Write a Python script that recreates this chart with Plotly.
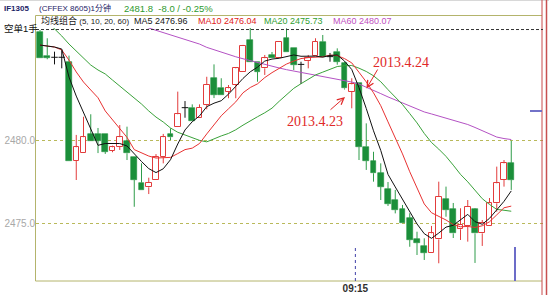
import plotly.graph_objects as go

# ---------------- data ----------------
opens = [2486.60, 2485.15, 2485.05, 2485.05, 2484.78, 2478.77, 2479.24, 2480.39, 2480.41, 2480.41,
         2479.39, 2479.64, 2479.98, 2479.03, 2477.46, 2477.18, 2477.62, 2478.99, 2480.41, 2480.85,
         2482.00, 2482.00, 2481.36, 2482.16, 2483.78, 2483.21, 2482.97, 2483.37, 2484.16, 2486.10,
         2484.78, 2484.38, 2485.19, 2484.99, 2486.20, 2485.59, 2484.62, 2484.82, 2485.15, 2485.99,
         2485.09, 2485.39, 2484.69, 2482.97, 2483.47, 2479.64, 2478.77, 2478.03, 2477.08, 2476.41,
         2475.85, 2475.30, 2474.03, 2473.63, 2473.22, 2474.03, 2476.45, 2475.85, 2474.64, 2474.84,
         2475.85, 2474.39, 2474.84, 2476.21, 2477.62, 2478.63]
highs = [2486.70, 2486.20, 2485.39, 2485.49, 2485.15, 2480.35, 2481.45, 2481.60, 2480.77, 2480.41,
         2479.70, 2480.95, 2480.85, 2479.03, 2478.63, 2477.76, 2479.19, 2480.41, 2480.75, 2482.97,
         2482.40, 2482.20, 2482.20, 2483.87, 2484.62, 2483.78, 2483.37, 2484.42, 2485.80, 2487.00,
         2484.78, 2485.19, 2485.37, 2486.00, 2486.80, 2485.59, 2484.78, 2485.19, 2486.20, 2486.40,
         2485.31, 2485.59, 2484.78, 2483.78, 2483.47, 2481.05, 2479.33, 2478.63, 2477.50, 2477.02,
         2476.11, 2475.61, 2474.49, 2474.09, 2474.84, 2477.52, 2477.22, 2476.23, 2475.91, 2476.41,
         2475.91, 2475.20, 2476.53, 2478.43, 2478.83, 2480.00]
lows = [2485.00, 2484.93, 2484.62, 2484.38, 2478.77, 2477.62, 2479.24, 2480.00, 2479.25, 2479.20,
        2479.30, 2479.44, 2478.83, 2476.00, 2477.02, 2476.77, 2477.62, 2478.63, 2480.04, 2480.85,
        2481.39, 2481.19, 2481.36, 2481.90, 2482.58, 2482.77, 2482.57, 2482.57, 2484.16, 2484.78,
        2483.57, 2483.98, 2484.99, 2484.99, 2485.39, 2484.28, 2483.43, 2484.38, 2485.15, 2485.09,
        2484.78, 2484.60, 2483.10, 2481.96, 2478.83, 2478.23, 2477.52, 2476.41, 2476.05, 2475.60,
        2475.00, 2473.58, 2473.08, 2472.78, 2473.22, 2472.58, 2475.40, 2474.11, 2473.99, 2473.89,
        2472.60, 2473.63, 2474.84, 2475.70, 2477.22, 2477.02]
closes = [2485.00, 2485.02, 2485.05, 2485.05, 2478.77, 2479.60, 2480.21, 2480.00, 2480.00, 2479.33,
          2479.60, 2480.21, 2479.24, 2477.62, 2477.02, 2477.46, 2478.99, 2480.21, 2480.21, 2481.60,
          2482.00, 2481.19, 2482.00, 2483.37, 2482.77, 2482.77, 2483.17, 2484.38, 2485.75, 2484.78,
          2484.18, 2484.99, 2484.99, 2485.99, 2485.39, 2484.58, 2484.62, 2485.02, 2485.99, 2485.09,
          2485.09, 2484.78, 2483.17, 2483.41, 2479.62, 2478.77, 2478.03, 2477.22, 2476.17, 2475.80,
          2475.00, 2473.99, 2473.83, 2473.22, 2474.39, 2476.61, 2475.80, 2474.39, 2474.90, 2476.00,
          2474.39, 2475.00, 2476.21, 2477.42, 2478.63, 2477.62]

ma5 = [2485.79, 2485.73, 2485.67, 2485.55, 2483.85, 2482.70, 2481.74, 2480.73, 2479.72, 2479.83,
       2479.83, 2479.83, 2479.68, 2479.20, 2478.74, 2478.31, 2478.07, 2478.30, 2478.85, 2479.80,
       2480.65, 2481.15, 2481.50, 2482.06, 2482.27, 2482.42, 2482.82, 2483.29, 2483.77, 2484.17,
       2484.45, 2484.82, 2484.94, 2484.99, 2485.11, 2485.19, 2485.11, 2485.12, 2485.12, 2485.06,
       2485.16, 2485.19, 2484.82, 2484.31, 2483.21, 2481.95, 2480.60, 2479.41, 2477.96, 2477.20,
       2476.44, 2475.64, 2474.96, 2474.37, 2474.09, 2474.41, 2474.77, 2474.88, 2475.22, 2475.54,
       2475.10, 2474.94, 2475.30, 2475.80, 2476.33, 2476.96]
ma10 = [2485.79, 2485.73, 2485.67, 2485.49, 2484.88, 2484.16, 2483.55, 2483.07, 2482.60, 2481.80,
        2481.26, 2480.78, 2480.20, 2479.46, 2479.28, 2479.07, 2478.95, 2478.97, 2478.99, 2479.22,
        2479.46, 2479.55, 2479.83, 2480.41, 2480.98, 2481.51, 2481.93, 2482.35, 2482.90, 2483.22,
        2483.44, 2483.82, 2484.12, 2484.38, 2484.64, 2484.82, 2484.97, 2485.03, 2485.05, 2485.08,
        2485.18, 2485.15, 2484.97, 2484.71, 2484.14, 2483.56, 2482.90, 2482.12, 2481.14, 2480.21,
        2479.20, 2478.12, 2477.18, 2476.17, 2475.64, 2475.43, 2475.20, 2474.92, 2474.79, 2474.81,
        2474.75, 2474.85, 2475.09, 2475.51, 2475.94, 2476.04]
ma20 = [None, 2487.20, 2486.78, 2486.34, 2485.85, 2485.43, 2484.95, 2484.58, 2484.28, 2484.04,
        2483.67, 2483.31, 2482.95, 2482.58, 2482.22, 2481.80, 2481.43, 2481.13, 2480.77, 2480.51,
        2480.36, 2480.17, 2480.02, 2479.93, 2480.13, 2480.29, 2480.44, 2480.66, 2480.94, 2481.22,
        2481.45, 2481.69, 2481.97, 2482.39, 2482.81, 2483.17, 2483.45, 2483.69, 2483.98, 2484.15,
        2484.31, 2484.49, 2484.54, 2484.55, 2484.39, 2484.19, 2483.93, 2483.57, 2483.09, 2482.65,
        2482.19, 2481.64, 2481.08, 2480.44, 2479.89, 2479.49, 2479.05, 2478.52, 2477.96, 2477.51,
        2476.97, 2476.49, 2476.14, 2475.84, 2475.79, 2475.73]
ma60 = [None, None, None, None, None, None, None, None, None, None,
        None, None, None, None, 2486.96, 2486.82, 2486.67, 2486.52, 2486.38, 2486.23,
        2486.10, 2485.97, 2485.85, 2485.65, 2485.50, 2485.35, 2485.22, 2485.08, 2484.96, 2484.84,
        2484.73, 2484.63, 2484.52, 2484.40, 2484.30, 2484.22, 2484.13, 2484.04, 2483.95, 2483.86,
        2483.78, 2483.70, 2483.64, 2483.55, 2483.43, 2483.25, 2483.04, 2482.85, 2482.65, 2482.46,
        2482.28, 2482.10, 2481.92, 2481.74, 2481.62, 2481.50, 2481.37, 2481.25, 2481.13, 2480.98,
        2480.80, 2480.62, 2480.41, 2480.22, 2480.13, 2480.07]

y_tick_values = [2475.0, 2480.0]
session_break = 43.5          # between last 4.23 bar and first 4.24 bar
session_label = "09:15"
short_position_price = 2486.73
header_symbol = "IF1305"
header_market = "(CFFEX 8605)1分钟"
header_quote = "2481.8  -8.0 / -0.25%"
ma_group_title = "均线组合"
ma_group_params = " (5, 10, 20, 60)"
position_label = "空单1手"
date_labels = ["2013.4.23", "2013.4.24"]

# ---------------- styling / layout ----------------
W, H = 549, 295
ML, MR, MT, MB = 36, 6, 28, 14
PW, PH = W - ML - MR, H - MT - MB


def px(x):
    return (x - ML) / PW


def py(y):
    return (H - MB - y) / PH


GREEN = "#1b8f3a"
GREEN_W = "#2f9c4a"
RED = "#e23c3c"
OLIVE = "#b4b46c"
GRID = "#b9b95a"

idx = list(range(len(closes)))
up = [i for i in idx if closes[i] > opens[i]]
dn = [i for i in idx if closes[i] < opens[i]]
dj = [i for i in idx if closes[i] == opens[i]]


def wicks(ids):
    xs, ys = [], []
    for i in ids:
        top = max(opens[i], closes[i])
        bot = min(opens[i], closes[i])
        if highs[i] > top:
            xs += [i, i, None]
            ys += [top, highs[i], None]
        if lows[i] < bot:
            xs += [i, i, None]
            ys += [bot, lows[i], None]
    return xs, ys


fig = go.Figure()

# bodies (bars are drawn below scatter layers)
fig.add_trace(go.Bar(
    x=dn, base=[min(opens[i], closes[i]) for i in dn],
    y=[abs(opens[i] - closes[i]) for i in dn], width=0.8,
    marker=dict(color=GREEN, line=dict(color=GREEN, width=0.6)), hoverinfo="skip"))
fig.add_trace(go.Bar(
    x=up, base=[min(opens[i], closes[i]) for i in up],
    y=[abs(opens[i] - closes[i]) for i in up], width=0.76,
    marker=dict(color="white", line=dict(color=RED, width=1)), hoverinfo="skip"))

# wicks
gx, gy = wicks(dn)
fig.add_trace(go.Scatter(x=gx, y=gy, mode="lines", line=dict(color=GREEN_W, width=1), hoverinfo="skip"))
rx, ry = wicks(up)
fig.add_trace(go.Scatter(x=rx, y=ry, mode="lines", line=dict(color=RED, width=1), hoverinfo="skip"))
dx, dy = [], []
for i in dj:
    dx += [i, i, None, i - 0.45, i + 0.45, None]
    dy += [lows[i], highs[i], None, opens[i], opens[i], None]
fig.add_trace(go.Scatter(x=dx, y=dy, mode="lines", line=dict(color="#111111", width=1), hoverinfo="skip"))

# moving averages
ma_specs = [("MA60", ma60, "#b452c4"), ("MA20", ma20, "#3aa23a"),
            ("MA10", ma10, "#e83232"), ("MA5", ma5, "#111111")]
for name, vals, col in ma_specs:
    fig.add_trace(go.Scatter(x=idx, y=vals, mode="lines", name=name,
                             line=dict(color=col, width=1), connectgaps=False, hoverinfo="skip"))

FONT = "Liberation Sans, Noto Sans CJK SC, sans-serif"
ann = []


def txt(x, y, s, color, size, xanchor="left", family=FONT):
    ann.append(dict(x=px(x), y=py(y), xref="paper", yref="paper", text=s, showarrow=False,
                    xanchor=xanchor, yanchor="middle", font=dict(color=color, size=size, family=family)))


txt(2, 8, "<b>" + header_symbol + "</b>", "#1c2366", 8)
txt(37, 8, header_market, "#1c2366", 8)
txt(122, 8, header_quote, "#2e9a2e", 9.5)
txt(39, 21, ma_group_title + "<span style='font-size:8px'>" + ma_group_params + "</span>",
    "#202020", 9)
txt(132, 21, f"MA5 {ma5[-1]:.2f}", "#202020", 9)
txt(196, 21, f"MA10 {ma10[-1]:.2f}", "#e02020", 9)
txt(262, 21, f"MA20 {ma20[-1]:.2f}", "#2f9e2f", 9)
txt(331, 21, f"MA60 {ma60[-1]:.2f}", "#c050c0", 9)
txt(2, 29, position_label, "#111111", 9.5)

SERIF = "Liberation Serif, Times New Roman, serif"
txt(315, 121, date_labels[0], "#e02828", 14, "center", SERIF)
txt(401, 62, date_labels[1], "#e02828", 14, "center", SERIF)
for hx, hy, tx, ty in [(345, 97, 329, 111), (366.5, 88.5, 378.5, 68)]:
    ann.append(dict(x=px(hx), y=py(hy), xref="paper", yref="paper", text="", showarrow=True,
                    ax=tx - hx, ay=ty - hy, arrowhead=5, arrowsize=1.3, arrowwidth=1,
                    arrowcolor="#e02828", standoff=0))

shapes = []


def line(x0, y0, x1, y1, color, width=1, dash="solid"):
    shapes.append(dict(type="line", xref="paper", yref="paper", x0=px(x0), y0=py(y0),
                       x1=px(x1), y1=py(y1), line=dict(color=color, width=width, dash=dash)))


line(0, 0.5, 549, 0.5, "#d8d8d8")
line(35.5, 15.5, 542, 15.5, OLIVE)
line(35.5, 15.5, 35.5, 281, OLIVE)
line(35.5, 281, 542, 281, OLIVE)
line(542, 0, 542, 295, "#c84a4a")
line(546.5, 0, 546.5, 295, "#c85050", 1.5)
line(515, 247, 515, 281, "#6c6cc8", 2)
line(530, 111, 542, 111, "#7272c8", 2)
shapes.append(dict(type="line", xref="x", yref="paper", x0=session_break, x1=session_break,
                   y0=0, y1=py(246), line=dict(color="#4040a8", width=1, dash="dot")))
shapes.append(dict(type="line", xref="paper", yref="y", x0=0, x1=1, y0=short_position_price,
                   y1=short_position_price, line=dict(color="#333333", width=1, dash="3px,2px")))

fig.update_layout(
    width=W, height=H, margin=dict(l=ML, r=MR, t=MT, b=MB, pad=0),
    paper_bgcolor="white", plot_bgcolor="white", showlegend=False,
    barmode="overlay", bargap=0, hovermode=False,
    annotations=ann, shapes=shapes,
    xaxis=dict(range=[-0.552, 69.38], showgrid=False, zeroline=False, showline=False,
               tickmode="array", tickvals=[session_break], ticktext=["<b>" + session_label + "</b>"],
               ticks="", tickfont=dict(size=10, color="#303030", family=FONT), automargin=False),
    yaxis=dict(range=[2471.507, 2486.822], showgrid=True, gridcolor=GRID, griddash="dot", gridwidth=1,
               zeroline=False, showline=False, tickmode="array", tickvals=y_tick_values,
               ticktext=[f"{v:.1f}" for v in y_tick_values], ticks="",
               tickfont=dict(size=10, color="#a8a8a8", family=FONT), automargin=False),
)

fig.write_html("out.html", config={"displayModeBar": False})
